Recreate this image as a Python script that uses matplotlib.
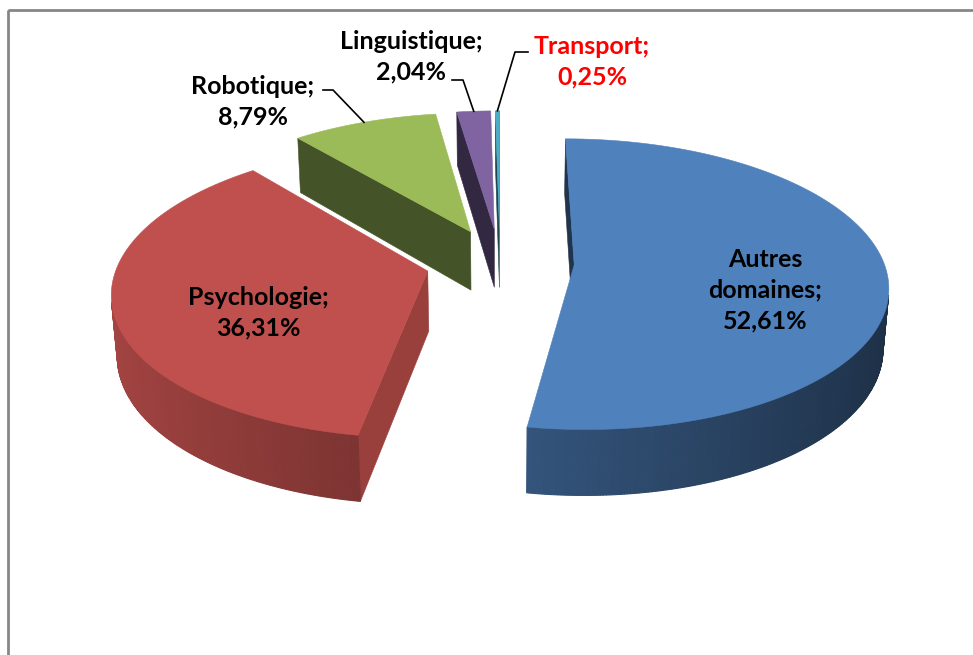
import numpy as np
import matplotlib.pyplot as plt
from matplotlib.patches import Polygon, Rectangle
from matplotlib.colors import to_rgb

# data
categories = ["Autres domaines", "Psychologie", "Robotique", "Linguistique", "Transport"]
values = [52.61, 36.31, 8.79, 2.04, 0.25]
colors = ["#4F81BD", "#C0504D", "#9BBB59", "#8064A2", "#4BACC6"]
label_colors = ["black", "black", "black", "black", "red"]

# 3d look (pixel layout of the figure)
cx, cy = 500, 262
S, K, J = 309.5, 142, 275
p, q = 0.133, 0.0687
explode = 0.24
h = 0.22
cam = np.array([0.0, -5.93])


def proj(u, v, z):
    d = 1 + p * v - q * z
    return cx + S * u / d, cy - (K * v + J * z) / d


def shade(col, f):
    return tuple(min(1, c * f) for c in to_rgb(col))


fig = plt.figure(figsize=(9.73, 6.55), dpi=100)
ax = fig.add_axes([0, 0, 1, 1])
ax.set_xlim(0, 973)
ax.set_ylim(655, 0)
ax.axis("off")

ax.add_patch(Rectangle((7.5, 10), 1100, 800, fill=False, ec="#868686", lw=2))

total = sum(values)
bounds = np.concatenate([[0], np.cumsum(values)]) / total * 2 * np.pi
slices = []
for i in range(len(values)):
    t1, t2 = bounds[i], bounds[i + 1]
    tm = (t1 + t2) / 2
    ou, ov = explode * np.sin(tm), explode * np.cos(tm)
    slices.append((i, t1, t2, tm, ou, ov))

# far slices first
for i, t1, t2, tm, ou, ov in sorted(slices, key=lambda s: -s[5]):
    col = colors[i]
    n = max(3, int((t2 - t1) / np.radians(0.5)) + 2)
    th = np.linspace(t1, t2, n)
    ru, rv = ou + np.sin(th), ov + np.cos(th)

    # radial cut faces
    for t, sgn in ((t1, -1), (t2, 1)):
        nu, nv = sgn * np.cos(t), -sgn * np.sin(t)
        pm = np.array([ou + 0.5 * np.sin(t), ov + 0.5 * np.cos(t)])
        if nu * (cam[0] - pm[0]) + nv * (cam[1] - pm[1]) > 0:
            eu, ev = ou + np.sin(t), ov + np.cos(t)
            pts = [proj(ou, ov, 0), proj(eu, ev, 0), proj(eu, ev, -h), proj(ou, ov, -h)]
            fc = shade(col, 0.6 + 0.2 * nu)
            ax.add_patch(Polygon(pts, closed=True, fc=fc, ec=fc, lw=0.4))

    # outer wall
    for j in range(n - 1):
        a = (th[j] + th[j + 1]) / 2
        pu, pv = ou + np.sin(a), ov + np.cos(a)
        if np.sin(a) * (cam[0] - pu) + np.cos(a) * (cam[1] - pv) > 0:
            pts = [proj(ru[j], rv[j], 0), proj(ru[j + 1], rv[j + 1], 0),
                   proj(ru[j + 1], rv[j + 1], -h), proj(ru[j], rv[j], -h)]
            fc = shade(col, 0.61 - 0.245 * np.sin(a))
            ax.add_patch(Polygon(pts, closed=True, fc=fc, ec=fc, lw=0.8))

    # top face
    top = [proj(ou, ov, 0)] + [proj(u, v, 0) for u, v in zip(ru, rv)]
    ax.add_patch(Polygon(top, closed=True, fc=col, ec=col, lw=0.4))

# labels
label_pos = [(765, 290), (258, 313), (253, 102), (411, 57), (592, 62)]
elbows = [None, None, [(323, 90), (333, 90)], [(452, 80), (463, 80)], [(528, 52), (515, 52)]]
font = dict(family=["Lato", "DejaVu Sans"], fontweight="bold", fontsize=18)

for i, t1, t2, tm, ou, ov in slices:
    name = categories[i].replace(" ", "\n")
    txt = f"{name};\n{values[i]:.2f}%".replace(".", ",")
    x, y = label_pos[i]
    ax.text(x, y, txt, ha="center", va="center", color=label_colors[i],
            linespacing=1.4, **font)
    if elbows[i] is not None:
        ex, ey = proj((1 + explode) * np.sin(tm), (1 + explode) * np.cos(tm), 0)
        xs = [e[0] for e in elbows[i]] + [ex]
        ys = [e[1] for e in elbows[i]] + [ey]
        ax.plot(xs, ys, color="black", lw=1.2)

fig.savefig("out.png", dpi=100)
